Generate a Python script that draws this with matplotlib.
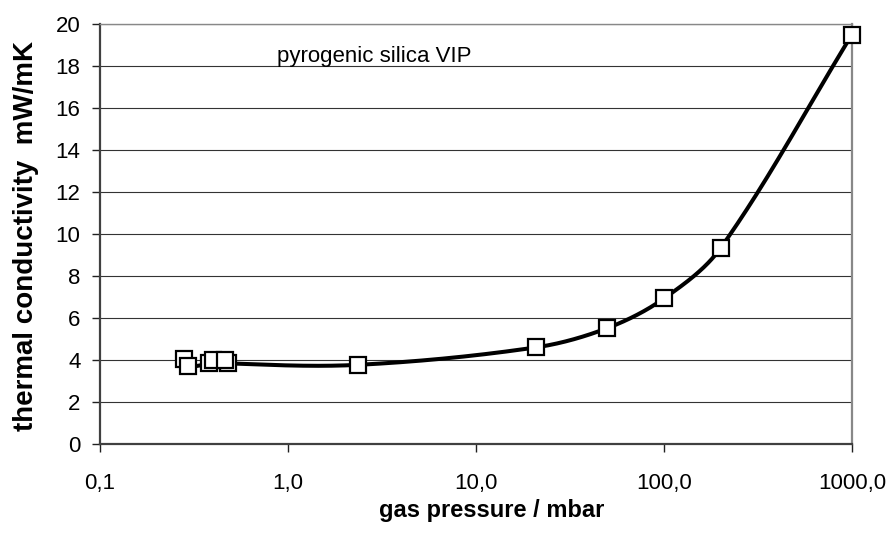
import numpy as np
import matplotlib
matplotlib.use("Agg")
import matplotlib.pyplot as plt

plt.rcParams['font.family'] = ['Liberation Sans', 'DejaVu Sans']

# data (series order as drawn)
pressure = [0.28, 0.295, 0.38, 0.48, 0.40, 0.465, 2.36, 20.8, 50, 100, 200, 1000]
conductivity = [4.05, 3.72, 3.84, 3.84, 4.0, 4.0, 3.77, 4.6, 5.52, 6.93, 9.33, 19.5]
xticks = [0.1, 1, 10, 100, 1000]
xticklabels = ["0,1", "1,0", "10,0", "100,0", "1000,0"]
yticks = list(range(0, 21, 2))
annotation = "pyrogenic silica VIP"
xlabel = "gas pressure / mbar"
ylabel = "thermal conductivity  mW/mK"


def smooth_display(P, n=60):
    """Bezier smoothing in display space, tangent scaled by segment length."""
    out = [P[0]]
    m = len(P)

    def tangent(i):
        a = P[i - 1] if i > 0 else P[i]
        b = P[i + 1] if i + 1 < m else P[i]
        d = b - a
        L = np.hypot(*d)
        return d / L if L > 0 else np.zeros(2)

    for i in range(m - 1):
        p1, p2 = P[i], P[i + 1]
        L = np.hypot(*(p2 - p1))
        c1 = p1 + tangent(i) * L / 3.0
        c2 = p2 - tangent(i + 1) * L / 3.0
        t = np.linspace(0, 1, n)[1:, None]
        seg = ((1 - t) ** 3) * p1 + 3 * ((1 - t) ** 2) * t * c1 + 3 * (1 - t) * t ** 2 * c2 + t ** 3 * p2
        out.extend(seg)
    return np.array(out)


fig = plt.figure(figsize=(8.95, 5.42), dpi=100)
ax = fig.add_axes([100 / 895, 1 - 444 / 542, 752 / 895, 420 / 542])

ax.set_xscale("log")
ax.set_xlim(0.1, 1000)
ax.set_ylim(0, 20)

order = np.argsort(pressure, kind="stable")
pts = np.column_stack([np.asarray(pressure, float)[order], np.asarray(conductivity, float)[order]])
disp = ax.transData.transform(pts)
curve_disp = smooth_display(disp)
curve = ax.transData.inverted().transform(curve_disp)
ax.plot(curve[:, 0], curve[:, 1], color="black", lw=2.9, zorder=3,
        solid_capstyle="round", clip_on=False)
ax.plot(pressure, conductivity, ls="none", marker="s", markersize=11,
        markerfacecolor="white", markeredgecolor="black", markeredgewidth=1.6,
        zorder=4, clip_on=False)

ax.set_xticks(xticks)
ax.set_xticklabels(xticklabels)
ax.xaxis.set_minor_locator(matplotlib.ticker.NullLocator())
ax.set_yticks(yticks)

for y in yticks[1:]:
    ax.axhline(y, color="#333333", lw=0.8, zorder=1)

ax.spines["left"].set_color("#404040")
ax.spines["left"].set_linewidth(1.6)
ax.spines["bottom"].set_color("#404040")
ax.spines["bottom"].set_linewidth(1.6)
ax.spines["right"].set_color("#888888")
ax.spines["right"].set_linewidth(1.6)
ax.spines["top"].set_color("#888888")
ax.spines["top"].set_linewidth(1.0)

ax.tick_params(axis="both", direction="out", length=6, width=1.0, color="#202020",
               labelsize=16, labelcolor="black")
ax.tick_params(axis="y", pad=8)
ax.tick_params(axis="x", pad=15)

ax.text(0.235, 0.922, annotation, transform=ax.transAxes, fontsize=16,
        ha="left", va="center", color="black")

fig.text(492 / 895, 1 - 511 / 542, xlabel, ha="center", va="center",
         fontsize=17, fontweight="bold")
fig.text(26 / 895, 1 - 236 / 542, ylabel, ha="center", va="center",
         rotation=90, fontsize=20, fontweight="bold")

fig.savefig("out.png", dpi=100, facecolor="white")
